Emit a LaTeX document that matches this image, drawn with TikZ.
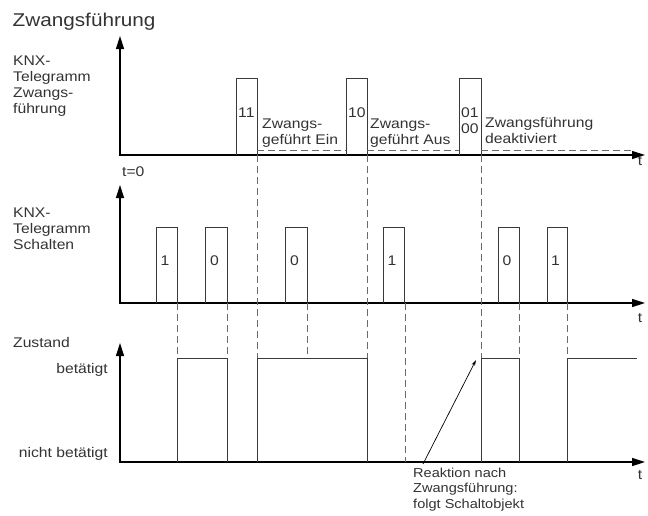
\documentclass[tikz,border=0pt]{standalone}
\usepackage{fontspec}
\setmainfont{Liberation Sans}[FakeStretch=1.12]
\usetikzlibrary{arrows.meta}
\definecolor{txt}{HTML}{333333}
\definecolor{ln}{HTML}{3A3A3A}
\definecolor{dsh}{HTML}{6A6A6A}
\begin{document}
\begin{tikzpicture}[x=1pt,y=-1pt,
  lbl/.style={font=\fontsize{14}{16}\selectfont, text=txt, inner sep=0pt, align=left},
  rlbl/.style={font=\fontsize{14}{16}\selectfont, text=txt, inner sep=0pt, anchor=base east},
  ann/.style={font=\fontsize{13}{15.5}\selectfont, text=txt, inner sep=0pt, align=left},
  ttl/.style={font=\fontsize{18.5}{21}\selectfont, text=txt, inner sep=0pt},
  axis/.style={line width=1.4pt, line join=miter, {Triangle[length=13pt,width=8pt]}-{Triangle[length=13pt,width=8pt]}},
  pulse/.style={line width=0.9pt, draw=ln},
  guide/.style={line width=0.9pt, draw=dsh, dash pattern=on 7pt off 4pt},
  state/.style={line width=0.9pt, draw=ln}]
\useasboundingbox (0,0) rectangle (648,515);

% title
\node[ttl, anchor=base west] (title) at (12.5,26) {Zwangsführung};

% ---------- top chart ----------
\coordinate (o1) at (120,155); \coordinate (y1) at (120,36); \coordinate (x1) at (645,155);
\draw[axis] (y1) -- (o1) -- (x1);
% (multi-line nodes: base anchor = baseline of last line)
\node[lbl, anchor=base west] (l1) at (13,113) {KNX-\\Telegramm\\Zwangs-\\führung};
\node[lbl, anchor=base] (t1) at (640,165) {t};
\node[lbl, anchor=base west] (t0) at (122,176) {t=0};

\draw[pulse] (236,155) -- (236,78) -- (257,78) -- (257,155);
\draw[pulse] (346,155) -- (346,78) -- (367,78) -- (367,155);
\draw[pulse] (459,155) -- (459,78) -- (481,78) -- (481,155);
\node[lbl, anchor=base west] (p11) at (238,117) {11};
\node[lbl, anchor=base west] (p10) at (348,117) {10};
\node[lbl, anchor=base west] (p01) at (461,133) {01\\00};
\node[lbl, anchor=base west] (zein) at (262,144) {Zwangs-\\geführt Ein};
\node[lbl, anchor=base west] (zaus) at (370,144) {Zwangs-\\geführt Aus};
\node[lbl, anchor=base west] (zdea) at (485,143) {Zwangsführung\\deaktiviert};

\draw[guide] (257,150) -- (346,150);
\draw[guide] (367,150) -- (459,150);
\draw[guide] (481,150) -- (632,150);

% ---------- middle chart ----------
\coordinate (o2) at (120,303); \coordinate (y2) at (120,185); \coordinate (x2) at (645,303);
\draw[axis] (y2) -- (o2) -- (x2);
\node[lbl, anchor=base west] (l2) at (13,249) {KNX-\\Telegramm\\Schalten};
\node[lbl, anchor=base] (t2) at (640,322) {t};

\foreach \a/\b/\v [count=\i] in {156/177/1, 205/227/0, 285/307/0, 383/404/1, 498/519/0, 547/567/1}{
  \draw[pulse] (\a,303) -- (\a,227) -- (\b,227) -- (\b,303);
  \node[lbl, anchor=base] (m\i) at ({(\a+\b)/2-1.5},265) {\v};
}

% ---------- bottom chart ----------
\coordinate (o3) at (120,462); \coordinate (y3) at (120,343); \coordinate (x3) at (645,462);
\draw[axis] (y3) -- (o3) -- (x3);
\node[lbl, anchor=base west] (zust) at (13,347) {Zustand};
\node[rlbl] (bet) at (108,373) {betätigt};
\node[rlbl] (nbet) at (108,457) {nicht betätigt};
\node[lbl, anchor=base] (t3) at (640,479) {t};

\draw[state] (177,462) -- (177,358) -- (227,358) -- (227,462);
\draw[state] (257,462) -- (257,358) -- (367,358) -- (367,462);
\draw[state] (481,462) -- (481,358) -- (519,358) -- (519,462);
\draw[state] (567,462) -- (567,358) -- (637,358);

% vertical guides
\foreach \x in {177,227,307,519,567}{\draw[guide] (\x,303) -- (\x,358);}
\foreach \x in {257,367,481}{\draw[guide] (\x,155) -- (\x,358);}
\draw[guide] (405,303) -- (405,462);

% annotation
\node[ann, anchor=base west] (reak) at (413,508) {Reaktion nach\\Zwangsführung:\\folgt Schaltobjekt};
\coordinate (aS) at (423,464);
\coordinate (aE) at (476,360);
\draw[line width=0.7pt, -{Stealth[length=6pt,width=3.5pt]}] (aS) -- (aE);
\end{tikzpicture}
\end{document}
